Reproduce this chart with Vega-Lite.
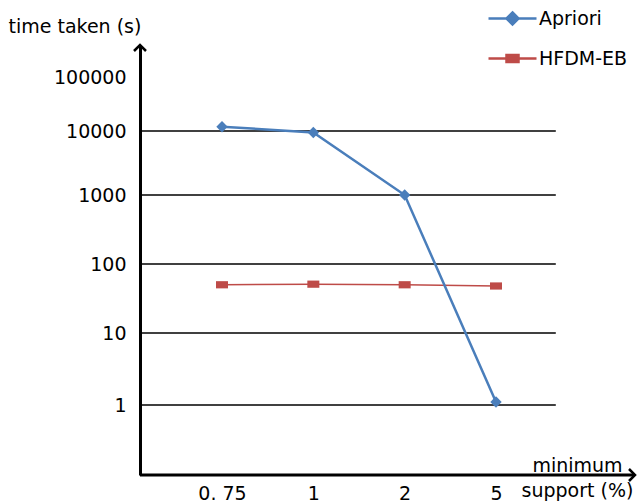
{
  "$schema": "https://vega.github.io/schema/vega-lite/v6.json",
  "width": 495,
  "height": 430,
  "autosize": {"type": "none"},
  "padding": {"left": 140, "top": 45, "right": 2, "bottom": 27},
  "background": "white",
  "config": {
    "font": "DejaVu Sans",
    "view": {"stroke": null},
    "legend": {
      "orient": "none",
      "legendX": 347,
      "legendY": -52,
      "labelFontSize": 19,
      "labelColor": "black",
      "labelFont": "DejaVu Sans",
      "symbolSize": 2304,
      "symbolStrokeWidth": 2.5,
      "labelOffset": 1,
      "rowPadding": 3,
      "padding": 0
    }
  },
  "datasets": {
    "perf": [
      {"x": "0.75", "s": "Apriori", "t": 12000},
      {"x": "1", "s": "Apriori", "t": 9500},
      {"x": "2", "s": "Apriori", "t": 1000},
      {"x": "5", "s": "Apriori", "t": 1.1},
      {"x": "0.75", "s": "HFDM-EB", "t": 50},
      {"x": "1", "s": "HFDM-EB", "t": 51},
      {"x": "2", "s": "HFDM-EB", "t": 50},
      {"x": "5", "s": "HFDM-EB", "t": 48}
    ],
    "grid": [{"t": 1}, {"t": 10}, {"t": 100}, {"t": 1000}, {"t": 10000}]
  },
  "encoding": {
    "y": {
      "field": "t",
      "type": "quantitative",
      "scale": {
        "type": "log",
        "domain": [0.1, 1, 10, 100, 1000, 10000, 100000, 390000],
        "range": [430, 360, 288, 219, 150, 86, 32, 0],
        "nice": false,
        "clamp": false
      },
      "axis": {
        "values": [1, 10, 100, 1000, 10000, 100000],
        "format": "d",
        "ticks": false,
        "grid": false,
        "domainColor": "black",
        "domainWidth": 3,
        "labelFontSize": 19,
        "labelColor": "black",
        "labelFont": "DejaVu Sans",
        "labelPadding": 14,
        "title": "time taken (s)",
        "titleAngle": 0,
        "titleAlign": "left",
        "titleBaseline": "alphabetic",
        "titleX": -132,
        "titleY": -13,
        "titleFontWeight": "normal",
        "titleFontSize": 19,
        "titleFont": "DejaVu Sans",
        "titleColor": "black"
      }
    }
  },
  "layer": [
    {
      "data": {"name": "grid"},
      "mark": {"type": "rule", "color": "black", "strokeWidth": 1.5},
      "encoding": {
        "x": {"datum": 0, "type": "quantitative", "scale": {"domain": [0, 1]}, "axis": null},
        "x2": {"datum": 0.84}
      }
    },
    {
      "data": {"name": "grid"},
      "transform": [{"filter": "datum.t == 1"}],
      "mark": {"type": "rule", "color": "black", "strokeWidth": 3},
      "encoding": {
        "x": {"datum": 0, "type": "quantitative", "scale": {"domain": [0, 1]}, "axis": null},
        "x2": {"datum": 1},
        "y": {"datum": 0.1, "type": "quantitative"}
      }
    },
    {
      "data": {"name": "grid"},
      "transform": [{"filter": "datum.t == 1"}],
      "mark": {"type": "point", "shape": "M-1,1L0,0L1,1", "size": 144, "filled": false, "color": "black", "strokeWidth": 2.5, "opacity": 1},
      "encoding": {
        "x": {"datum": 0, "type": "quantitative", "scale": {"domain": [0, 1]}, "axis": null},
        "y": {"datum": 390000, "type": "quantitative"}
      }
    },
    {
      "data": {"name": "grid"},
      "transform": [{"filter": "datum.t == 1"}],
      "mark": {"type": "point", "shape": "M-1,-1L0,0L-1,1", "size": 144, "filled": false, "color": "black", "strokeWidth": 2.5, "opacity": 1},
      "encoding": {
        "x": {"datum": 1, "type": "quantitative", "scale": {"domain": [0, 1]}, "axis": null},
        "y": {"datum": 0.1, "type": "quantitative"}
      }
    },
    {
      "data": {"name": "perf"},
      "encoding": {
        "x": {
          "field": "x",
          "type": "ordinal",
          "sort": ["0.75", "1", "2", "5"],
          "scale": {"type": "point", "range": [82, 356], "padding": 0},
          "axis": {
            "title": ["minimum", "support (%)"],
            "labelExpr": "datum.value == '0.75' ? '0. 75' : datum.value",
            "labelAngle": 0,
            "ticks": false,
            "domain": false,
            "labelFontSize": 19,
            "labelColor": "black",
            "labelFont": "DejaVu Sans",
            "labelPadding": 9,
            "titleFontWeight": "normal",
            "titleFontSize": 19,
            "titleFont": "DejaVu Sans",
            "titleColor": "black",
            "titleX": 437,
            "titleY": -4,
            "titleAlign": "center",
            "titleBaseline": "alphabetic",
            "titleLineHeight": 25
          }
        },
        "color": {
          "field": "s",
          "type": "nominal",
          "scale": {"domain": ["Apriori", "HFDM-EB"], "range": ["#4a7ebb", "#be4b48"]},
          "title": null
        }
      },
      "layer": [
        {
          "transform": [{"filter": "datum.s == 'HFDM-EB'"}],
          "mark": {"type": "line", "strokeWidth": 1.5}
        },
        {
          "transform": [{"filter": "datum.s == 'HFDM-EB'"}],
          "mark": {"type": "point", "shape": "M-1,-0.6L1,-0.6L1,0.6L-1,0.6Z", "size": 144, "filled": true, "opacity": 1}
        },
        {
          "transform": [{"filter": "datum.s == 'Apriori'"}],
          "mark": {"type": "line", "strokeWidth": 2.5}
        },
        {
          "transform": [{"filter": "datum.s == 'Apriori'"}],
          "mark": {"type": "point", "shape": "diamond", "size": 130, "filled": true, "opacity": 1}
        },
        {
          "transform": [{"filter": "false"}],
          "mark": {"type": "point", "filled": false, "strokeWidth": 2.5, "opacity": 1},
          "encoding": {
            "shape": {
              "field": "s",
              "type": "nominal",
              "scale": {
                "domain": ["Apriori", "HFDM-EB"],
                "range": [
                  "M-1,0L1,0M0,-0.25L0.25,0L0,0.25L-0.25,0Z",
                  "M-1,0L1,0M-0.25,-0.15L0.25,-0.15L0.25,0.15L-0.25,0.15Z"
                ]
              },
              "title": null
            }
          }
        }
      ]
    }
  ],
  "resolve": {"scale": {"x": "independent"}}
}
